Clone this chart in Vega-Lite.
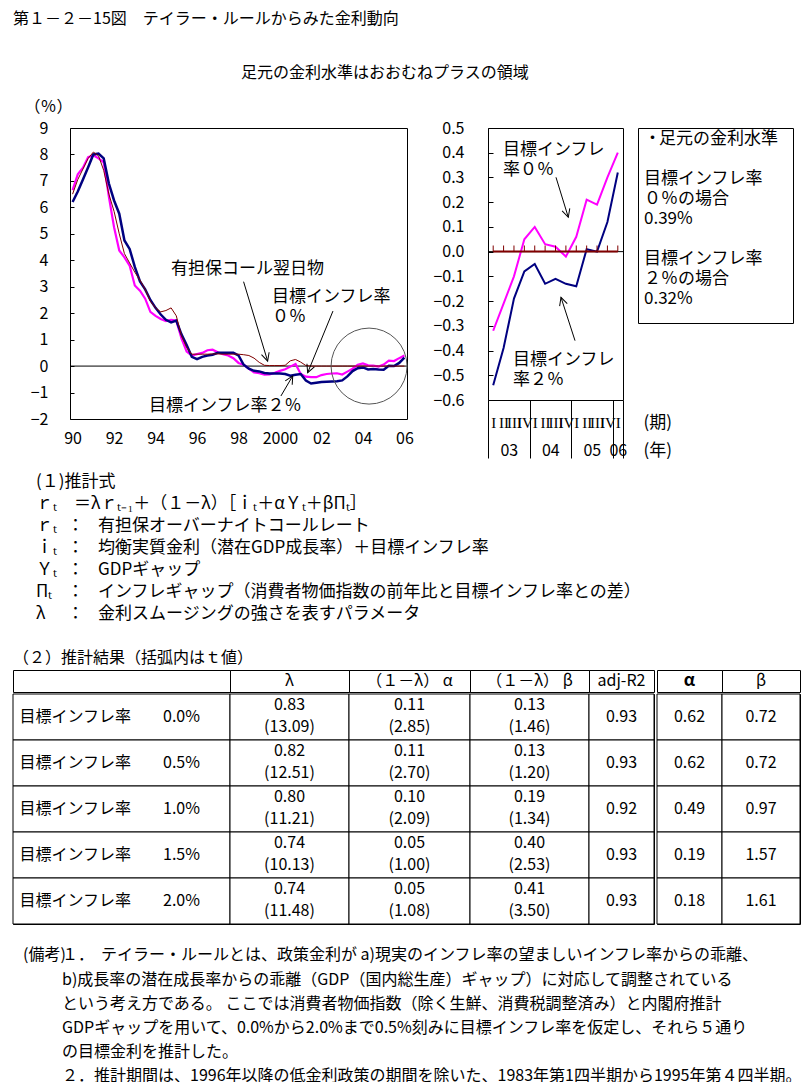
{
"$schema": "https://vega.github.io/schema/vega-lite/v6.json",
"padding": {"left": 12, "top": 10, "right": 0, "bottom": 0},
"background": "white",
"title": {"text": "第１－２－15図　テイラー・ルールからみた金利動向", "anchor": "start", "frame": "group", "fontSize": 16, "fontWeight": "normal", "offset": 38},
"config": {
  "font": "Noto Sans CJK JP",
  "view": {"stroke": null},
  "axis": {"labelFont": "Noto Sans CJK JP", "labelFontSize": 16, "labelColor": "black", "titleColor": "black", "titleFont": "Noto Sans CJK JP", "titleFontWeight": "normal", "grid": false, "domain": false, "tickColor": "black", "labelFlush": false},
  "text": {"font": "Noto Sans CJK JP", "color": "black"},
  "title": {"font": "Noto Sans CJK JP", "fontWeight": "normal", "color": "black", "fontSize": 16}
},
"datasets": {
  "rates": [
    {"t":1990.125,"call":6.5,"m0":6.65,"m2":6.2},
    {"t":1990.375,"call":7.05,"m0":7.25,"m2":6.6},
    {"t":1990.625,"call":7.45,"m0":7.5,"m2":7.05},
    {"t":1990.875,"call":7.85,"m0":7.9,"m2":7.52},
    {"t":1991.125,"call":8.09,"m0":7.97,"m2":8.0},
    {"t":1991.375,"call":7.95,"m0":7.85,"m2":8.03},
    {"t":1991.625,"call":7.4,"m0":7.7,"m2":7.85},
    {"t":1991.875,"call":6.5,"m0":6.4,"m2":6.9},
    {"t":1992.125,"call":5.85,"m0":5.25,"m2":6.26},
    {"t":1992.375,"call":5.0,"m0":4.37,"m2":5.76},
    {"t":1992.625,"call":4.25,"m0":4.11,"m2":4.75},
    {"t":1992.875,"call":3.9,"m0":3.8,"m2":4.43},
    {"t":1993.125,"call":3.55,"m0":3.05,"m2":3.75},
    {"t":1993.375,"call":3.25,"m0":2.85,"m2":3.2},
    {"t":1993.625,"call":2.9,"m0":2.55,"m2":2.9},
    {"t":1993.875,"call":2.45,"m0":2.05,"m2":2.5},
    {"t":1994.125,"call":2.2,"m0":1.9,"m2":2.2},
    {"t":1994.375,"call":2.05,"m0":1.78,"m2":1.95},
    {"t":1994.625,"call":2.1,"m0":1.7,"m2":1.75},
    {"t":1994.875,"call":2.2,"m0":1.75,"m2":1.65},
    {"t":1995.125,"call":1.9,"m0":1.72,"m2":1.72},
    {"t":1995.375,"call":1.15,"m0":1.05,"m2":1.2},
    {"t":1995.625,"call":0.7,"m0":0.55,"m2":0.8},
    {"t":1995.875,"call":0.45,"m0":0.4,"m2":0.35},
    {"t":1996.125,"call":0.45,"m0":0.45,"m2":0.26},
    {"t":1996.375,"call":0.45,"m0":0.5,"m2":0.35},
    {"t":1996.625,"call":0.45,"m0":0.6,"m2":0.4},
    {"t":1996.875,"call":0.46,"m0":0.62,"m2":0.43},
    {"t":1997.125,"call":0.46,"m0":0.52,"m2":0.5},
    {"t":1997.375,"call":0.45,"m0":0.45,"m2":0.5},
    {"t":1997.625,"call":0.45,"m0":0.4,"m2":0.5},
    {"t":1997.875,"call":0.45,"m0":0.3,"m2":0.5},
    {"t":1998.125,"call":0.45,"m0":0.12,"m2":0.4},
    {"t":1998.375,"call":0.43,"m0":0.05,"m2":0.05},
    {"t":1998.625,"call":0.4,"m0":-0.1,"m2":-0.1},
    {"t":1998.875,"call":0.3,"m0":-0.24,"m2":-0.18},
    {"t":1999.125,"call":0.14,"m0":-0.27,"m2":-0.2},
    {"t":1999.375,"call":0.03,"m0":-0.32,"m2":-0.26},
    {"t":1999.625,"call":0.02,"m0":-0.31,"m2":-0.28},
    {"t":1999.875,"call":0.02,"m0":-0.25,"m2":-0.28},
    {"t":2000.125,"call":0.02,"m0":-0.18,"m2":-0.28},
    {"t":2000.375,"call":0.03,"m0":-0.12,"m2":-0.3},
    {"t":2000.625,"call":0.2,"m0":-0.02,"m2":-0.36},
    {"t":2000.875,"call":0.25,"m0":0.08,"m2":-0.33},
    {"t":2001.125,"call":0.15,"m0":-0.3,"m2":-0.3},
    {"t":2001.375,"call":0.02,"m0":-0.4,"m2":-0.55},
    {"t":2001.625,"call":0.001,"m0":-0.42,"m2":-0.66},
    {"t":2001.875,"call":0.001,"m0":-0.42,"m2":-0.63},
    {"t":2002.125,"call":0.001,"m0":-0.34,"m2":-0.6},
    {"t":2002.375,"call":0.001,"m0":-0.3,"m2":-0.59},
    {"t":2002.625,"call":0.001,"m0":-0.28,"m2":-0.58},
    {"t":2002.875,"call":0.001,"m0":-0.27,"m2":-0.57},
    {"t":2003.125,"call":0.001,"m0":-0.32,"m2":-0.54},
    {"t":2003.375,"call":0.001,"m0":-0.21,"m2":-0.39},
    {"t":2003.625,"call":0.001,"m0":-0.1,"m2":-0.19},
    {"t":2003.875,"call":0.001,"m0":0.05,"m2":-0.08},
    {"t":2004.125,"call":0.001,"m0":0.1,"m2":-0.05},
    {"t":2004.375,"call":0.001,"m0":0.03,"m2":-0.13},
    {"t":2004.625,"call":0.001,"m0":0.02,"m2":-0.11},
    {"t":2004.875,"call":0.001,"m0":-0.02,"m2":-0.13},
    {"t":2005.125,"call":0.001,"m0":0.06,"m2":-0.14},
    {"t":2005.375,"call":0.001,"m0":0.21,"m2":0.01},
    {"t":2005.625,"call":0.001,"m0":0.19,"m2":0.0},
    {"t":2005.875,"call":0.001,"m0":0.3,"m2":0.12},
    {"t":2006.125,"call":0.001,"m0":0.4,"m2":0.32}
  ],
  "txtL": [
    {"t":1994.87,"v":3.67,"label":"有担保コール翌日物"},
    {"t":1999.74,"v":2.61,"label":"目標インフレ率\n０％"},
    {"t":1993.81,"v":-1.51,"label":"目標インフレ率２％"}
  ],
  "arrL": [
    {"id":"a","t":1998.37,"v":3.19,"t2":1999.53,"v2":0.19},
    {"id":"b","t":2002.68,"v":2.08,"t2":2001.46,"v2":-0.25},
    {"id":"c","t":2000.17,"v":-1.13,"t2":2000.74,"v2":-0.37}
  ],
  "circ": [{"t":2004.42,"v":0}],
  "txtR": [
    {"t":2003.361,"v":0.41,"label":"目標インフレ\n率０％"},
    {"t":2003.602,"v":-0.44,"label":"目標インフレ\n率２％"}
  ],
  "arrR": [
    {"id":"d","t":2004.637,"v":0.3006,"t2":2004.933,"v2":0.139},
    {"id":"e","t":2005.095,"v":-0.36,"t2":2004.757,"v2":-0.1846}
  ],
  "box": [
    {"line":1,"col":"a","text":"・"},
    {"line":1,"col":"b","text":"足元の金利水準"},
    {"line":3,"col":"a","text":"目標インフレ率"},
    {"line":4,"col":"a","text":"０％の場合"},
    {"line":5,"col":"a","text":"0.39%"},
    {"line":7,"col":"a","text":"目標インフレ率"},
    {"line":8,"col":"a","text":"２％の場合"},
    {"line":9,"col":"a","text":"0.32%"}
  ],
  "eq": [
    {"line":1,"col":"sym","text":"(１)推計式"},
    {"line":2,"col":"sym","text":"ｒₜ　＝λｒₜ₋₁＋（１－λ）［ｉₜ＋αＹₜ＋βΠₜ］"},
    {"line":3,"col":"sym","text":"ｒₜ"},
    {"line":3,"col":"colon","text":"："},
    {"line":3,"col":"desc","text":"有担保オーバーナイトコールレート"},
    {"line":4,"col":"sym","text":"ｉₜ"},
    {"line":4,"col":"colon","text":"："},
    {"line":4,"col":"desc","text":"均衡実質金利（潜在GDP成長率）＋目標インフレ率"},
    {"line":5,"col":"sym","text":"Ｙₜ"},
    {"line":5,"col":"colon","text":"："},
    {"line":5,"col":"desc","text":"GDPギャップ"},
    {"line":6,"col":"sym","text":"Πₜ"},
    {"line":6,"col":"colon","text":"："},
    {"line":6,"col":"desc","text":"インフレギャップ（消費者物価指数の前年比と目標インフレ率との差）"},
    {"line":7,"col":"sym","text":"λ"},
    {"line":7,"col":"colon","text":"："},
    {"line":7,"col":"desc","text":"金利スムージングの強さを表すパラメータ"}
  ],
  "notes": [
    {"line":1,"col":"head","text":"(備考)"},
    {"line":1,"col":"num","text":"１．"},
    {"line":1,"col":"body","text":"テイラー・ルールとは、政策金利が a)現実のインフレ率の望ましいインフレ率からの乖離、"},
    {"line":2,"col":"num","text":"\u3000\u2002b)成長率の潜在成長率からの乖離（GDP（国内総生産）ギャップ）に対応して調整されている"},
    {"line":3,"col":"num","text":"\u3000\u2002という考え方である。 ここでは消費者物価指数（除く生鮮、消費税調整済み）と内閣府推計"},
    {"line":4,"col":"num","text":"\u3000\u2002GDPギャップを用いて、0.0%から2.0%まで0.5%刻みに目標インフレ率を仮定し、それら５通り"},
    {"line":5,"col":"num","text":"\u3000\u2002の目標金利を推計した。"},
    {"line":6,"col":"num","text":"\u3000２．推計期間は、1996年以降の低金利政策の期間を除いた、1983年第1四半期から1995年第４四半期。"}
  ],
  "est": [
    {"target":"目標インフレ率　　0.0%","lam":"0.83","lam_t":"(13.09)","a":"0.11","a_t":"(2.85)","b":"0.13","b_t":"(1.46)","r2":"0.93","alpha":"0.62","beta":"0.72"},
    {"target":"目標インフレ率　　0.5%","lam":"0.82","lam_t":"(12.51)","a":"0.11","a_t":"(2.70)","b":"0.13","b_t":"(1.20)","r2":"0.93","alpha":"0.62","beta":"0.72"},
    {"target":"目標インフレ率　　1.0%","lam":"0.80","lam_t":"(11.21)","a":"0.10","a_t":"(2.09)","b":"0.19","b_t":"(1.34)","r2":"0.92","alpha":"0.49","beta":"0.97"},
    {"target":"目標インフレ率　　1.5%","lam":"0.74","lam_t":"(10.13)","a":"0.05","a_t":"(1.00)","b":"0.40","b_t":"(2.53)","r2":"0.93","alpha":"0.19","beta":"1.57"},
    {"target":"目標インフレ率　　2.0%","lam":"0.74","lam_t":"(11.48)","a":"0.05","a_t":"(1.08)","b":"0.41","b_t":"(3.50)","r2":"0.93","alpha":"0.18","beta":"1.61"}
  ]
},
"spacing": 0,
"bounds": "full",
"vconcat": [
  {
    "spacing": 0,
    "bounds": "flush",
    "hconcat": [
      {"width": 57, "height": 1, "view": {"stroke": "transparent"},
       "title": {"text": "足元の金利水準はおおむねプラスの領域", "anchor": "start", "frame": "group", "dx": 228, "offset": 47, "fontSize": 16, "fontWeight": "normal", "limit": 0},
       "data": {"values": []}, "mark": "point"},
      {
        "width": 337, "height": 291,
        "view": {"stroke": "black", "strokeWidth": 1},
        "resolve": {"axis": {"x": "independent", "y": "independent"}},
        "layer": [
          {"data": {"values": [{}]}, "mark": {"type": "rule", "color": "black", "strokeWidth": 1},
           "encoding": {"y": {"datum": 0, "type": "quantitative", "scale": {"domain": [-2, 9], "nice": false, "zero": false}, "axis": null}}},
          {"data": {"name": "rates"}, "mark": {"type": "line", "color": "#FF00FF", "strokeWidth": 2.2},
           "encoding": {
             "x": {"field": "t", "type": "quantitative", "scale": {"domain": [1990, 2006.25], "nice": false, "zero": false},
                   "axis": {"orient": "bottom", "values": [1990.125, 1992.125, 1994.125, 1996.125, 1998.125, 2000.125, 2002.125, 2004.125, 2006.125],
                            "labelExpr": "floor(datum.value) == 2000 ? '2000' : substring(toString(floor(datum.value)), 2, 4)",
                            "ticks": false, "tickSize": 0, "labelPadding": 19, "labelBaseline": "middle", "labelOverlap": false, "labelBound": false, "title": null}},
             "y": {"field": "m0", "type": "quantitative", "scale": {"domain": [-2, 9], "nice": false, "zero": false},
                   "axis": {"orient": "left", "values": [-2, -1, 0, 1, 2, 3, 4, 5, 6, 7, 8, 9], "tickSize": -4, "labelPadding": 26, "labelOverlap": false, "labelBound": false,
                            "title": "（％）", "titleAngle": 0, "titleX": -46, "titleY": -22, "titleAlign": "left", "titleBaseline": "middle", "titleFontSize": 16}}
           }},
          {"data": {"name": "rates"}, "mark": {"type": "line", "color": "#000080", "strokeWidth": 2.5},
           "encoding": {
             "x": {"field": "t", "type": "quantitative", "scale": {"domain": [1990, 2006.25], "nice": false, "zero": false}, "axis": null},
             "y": {"field": "m2", "type": "quantitative", "scale": {"domain": [-2, 9], "nice": false, "zero": false}, "axis": null}
           }},
          {"data": {"name": "rates"}, "mark": {"type": "line", "color": "#800000", "strokeWidth": 1},
           "encoding": {
             "x": {"field": "t", "type": "quantitative", "scale": {"domain": [1990, 2006.25], "nice": false, "zero": false}, "axis": null},
             "y": {"field": "call", "type": "quantitative", "scale": {"domain": [-2, 9], "nice": false, "zero": false}, "axis": null}
           }},
          {"data": {"name": "circ"}, "mark": {"type": "point", "shape": "circle", "filled": false, "size": 5776, "color": "#555555", "strokeWidth": 1, "opacity": 1},
           "encoding": {
             "x": {"field": "t", "type": "quantitative", "scale": {"domain": [1990, 2006.25], "nice": false, "zero": false}, "axis": null},
             "y": {"field": "v", "type": "quantitative", "scale": {"domain": [-2, 9], "nice": false, "zero": false}, "axis": null}
           }},
          {"data": {"name": "arrL"}, "mark": {"type": "rule", "color": "black", "strokeWidth": 1},
           "encoding": {
             "x": {"field": "t", "type": "quantitative", "scale": {"domain": [1990, 2006.25], "nice": false, "zero": false}, "axis": null},
             "y": {"field": "v", "type": "quantitative", "scale": {"domain": [-2, 9], "nice": false, "zero": false}, "axis": null},
             "x2": {"field": "t2"}, "y2": {"field": "v2"}
           }},
          {"data": {"name": "arrL"}, "transform": [{"filter": "datum.id == 'a'"}],
           "mark": {"type": "point", "shape": "M-1,-0.5L0,0L-1,0.5", "filled": false, "size": 256, "angle": 73, "color": "black", "strokeWidth": 1, "opacity": 1},
           "encoding": {
             "x": {"field": "t2", "type": "quantitative", "scale": {"domain": [1990, 2006.25], "nice": false, "zero": false}, "axis": null},
             "y": {"field": "v2", "type": "quantitative", "scale": {"domain": [-2, 9], "nice": false, "zero": false}, "axis": null}
           }},
          {"data": {"name": "arrL"}, "transform": [{"filter": "datum.id == 'b'"}],
           "mark": {"type": "point", "shape": "M-1,-0.5L0,0L-1,0.5", "filled": false, "size": 256, "angle": 112, "color": "black", "strokeWidth": 1, "opacity": 1},
           "encoding": {
             "x": {"field": "t2", "type": "quantitative", "scale": {"domain": [1990, 2006.25], "nice": false, "zero": false}, "axis": null},
             "y": {"field": "v2", "type": "quantitative", "scale": {"domain": [-2, 9], "nice": false, "zero": false}, "axis": null}
           }},
          {"data": {"name": "arrL"}, "transform": [{"filter": "datum.id == 'c'"}],
           "mark": {"type": "point", "shape": "M-1,-0.5L0,0L-1,0.5", "filled": false, "size": 256, "angle": 300, "color": "black", "strokeWidth": 1, "opacity": 1},
           "encoding": {
             "x": {"field": "t2", "type": "quantitative", "scale": {"domain": [1990, 2006.25], "nice": false, "zero": false}, "axis": null},
             "y": {"field": "v2", "type": "quantitative", "scale": {"domain": [-2, 9], "nice": false, "zero": false}, "axis": null}
           }},
          {"data": {"name": "txtL"}, "mark": {"type": "text", "align": "left", "baseline": "middle", "fontSize": 17, "lineBreak": "\n", "lineHeight": 20},
           "encoding": {
             "x": {"field": "t", "type": "quantitative", "scale": {"domain": [1990, 2006.25], "nice": false, "zero": false}, "axis": null},
             "y": {"field": "v", "type": "quantitative", "scale": {"domain": [-2, 9], "nice": false, "zero": false}, "axis": null},
             "text": {"field": "label"}
           }}
        ]
      },
      {"width": 81, "height": 1, "view": {"stroke": "transparent"}, "data": {"values": []}, "mark": "point"},
      {
        "width": 135, "height": 272,
        "view": {"stroke": "black", "strokeWidth": 1},
        "resolve": {"axis": {"x": "independent", "y": "independent"}},
        "layer": [
          {"data": {"values": [{}]}, "mark": {"type": "rule", "color": "black", "strokeWidth": 1},
           "encoding": {"y": {"datum": 0, "type": "quantitative", "scale": {"domain": [-0.6, 0.5], "nice": false, "zero": false}, "axis": null}}},
          {"data": {"name": "rates"}, "transform": [{"filter": "datum.t > 2003"}], "mark": {"type": "line", "color": "#FF00FF", "strokeWidth": 2},
           "encoding": {
             "x": {"field": "t", "type": "quantitative", "scale": {"domain": [2003, 2006.25], "nice": false, "zero": false},
                   "axis": {"orient": "bottom", "values": [2003.125, 2003.375, 2003.625, 2003.875, 2004.125, 2004.375, 2004.625, 2004.875, 2005.125, 2005.375, 2005.625, 2005.875, 2006.125],
                            "labelExpr": "['I','II','III','IV'][round((datum.value - floor(datum.value) - 0.125) * 4)]",
                            "labelFont": "Liberation Serif", "labelFontSize": 15, "ticks": false, "tickSize": 0, "labelPadding": 22, "labelBaseline": "middle", "labelOverlap": false, "labelBound": false,
                            "title": "(期)", "titleX": 155, "titleY": 22, "titleAlign": "left", "titleBaseline": "middle", "titleFontSize": 17}},
             "y": {"field": "m0", "type": "quantitative", "scale": {"domain": [-0.6, 0.5], "nice": false, "zero": false},
                   "axis": {"orient": "left", "values": [-0.6, -0.5, -0.4, -0.3, -0.2, -0.1, 0, 0.1, 0.2, 0.3, 0.4, 0.5], "format": ".1f", "tickSize": -5, "labelPadding": 29, "title": null}}
           }},
          {"data": {"name": "rates"}, "transform": [{"filter": "datum.t > 2003"}], "mark": {"type": "line", "color": "#000080", "strokeWidth": 2},
           "encoding": {
             "x": {"field": "t", "type": "quantitative", "scale": {"domain": [2003, 2006.25], "nice": false, "zero": false},
                   "axis": {"orient": "bottom", "values": [2003, 2004, 2005, 2006, 2006.25], "labels": false, "ticks": true, "tickSize": 58, "tickColor": "black", "title": null}},
             "y": {"field": "m2", "type": "quantitative", "scale": {"domain": [-0.6, 0.5], "nice": false, "zero": false}, "axis": null}
           }},
          {"data": {"name": "rates"}, "transform": [{"filter": "datum.t > 2003"}], "mark": {"type": "line", "color": "#800000", "strokeWidth": 2},
           "encoding": {
             "x": {"field": "t", "type": "quantitative", "scale": {"domain": [2003, 2006.25], "nice": false, "zero": false},
                   "axis": {"orient": "bottom", "values": [2003.5, 2004.5, 2005.5, 2006.125],
                            "labelExpr": "substring(toString(floor(datum.value)), 2, 4)",
                            "ticks": false, "tickSize": 0, "labelPadding": 50, "labelBaseline": "middle", "labelOverlap": false, "labelBound": false,
                            "title": "(年)", "titleX": 155, "titleY": 50, "titleAlign": "left", "titleBaseline": "middle", "titleFontSize": 17}},
             "y": {"field": "call", "type": "quantitative", "scale": {"domain": [-0.6, 0.5], "nice": false, "zero": false}, "axis": null}
           }},
          {"data": {"name": "rates"}, "transform": [{"filter": "datum.t > 2003"}], "mark": {"type": "tick", "orient": "vertical", "size": 6, "thickness": 1, "color": "#800000", "yOffset": -3, "opacity": 1},
           "encoding": {
             "x": {"field": "t", "type": "quantitative", "scale": {"domain": [2003, 2006.25], "nice": false, "zero": false}, "axis": null},
             "y": {"field": "call", "type": "quantitative", "scale": {"domain": [-0.6, 0.5], "nice": false, "zero": false}, "axis": null}
           }},
          {"data": {"name": "arrR"}, "mark": {"type": "rule", "color": "black", "strokeWidth": 1},
           "encoding": {
             "x": {"field": "t", "type": "quantitative", "scale": {"domain": [2003, 2006.25], "nice": false, "zero": false}, "axis": null},
             "y": {"field": "v", "type": "quantitative", "scale": {"domain": [-0.6, 0.5], "nice": false, "zero": false}, "axis": null},
             "x2": {"field": "t2"}, "y2": {"field": "v2"}
           }},
          {"data": {"name": "arrR"}, "transform": [{"filter": "datum.id == 'd'"}],
           "mark": {"type": "point", "shape": "M-1,-0.5L0,0L-1,0.5", "filled": false, "size": 256, "angle": 73, "color": "black", "strokeWidth": 1, "opacity": 1},
           "encoding": {
             "x": {"field": "t2", "type": "quantitative", "scale": {"domain": [2003, 2006.25], "nice": false, "zero": false}, "axis": null},
             "y": {"field": "v2", "type": "quantitative", "scale": {"domain": [-0.6, 0.5], "nice": false, "zero": false}, "axis": null}
           }},
          {"data": {"name": "arrR"}, "transform": [{"filter": "datum.id == 'e'"}],
           "mark": {"type": "point", "shape": "M-1,-0.5L0,0L-1,0.5", "filled": false, "size": 256, "angle": 252, "color": "black", "strokeWidth": 1, "opacity": 1},
           "encoding": {
             "x": {"field": "t2", "type": "quantitative", "scale": {"domain": [2003, 2006.25], "nice": false, "zero": false}, "axis": null},
             "y": {"field": "v2", "type": "quantitative", "scale": {"domain": [-0.6, 0.5], "nice": false, "zero": false}, "axis": null}
           }},
          {"data": {"name": "txtR"}, "mark": {"type": "text", "align": "left", "baseline": "middle", "fontSize": 17, "lineBreak": "\n", "lineHeight": 20},
           "encoding": {
             "x": {"field": "t", "type": "quantitative", "scale": {"domain": [2003, 2006.25], "nice": false, "zero": false}, "axis": null},
             "y": {"field": "v", "type": "quantitative", "scale": {"domain": [-0.6, 0.5], "nice": false, "zero": false}, "axis": null},
             "text": {"field": "label"}
           }}
        ]
      },
      {"width": 15, "height": 1, "view": {"stroke": "transparent"}, "data": {"values": []}, "mark": "point"},
      {
        "width": 155, "height": 195,
        "view": {"stroke": "black", "strokeWidth": 1},
        "data": {"name": "box"},
        "mark": {"type": "text", "align": "left", "baseline": "middle", "fontSize": 17},
        "encoding": {
          "x": {"field": "col", "type": "nominal", "scale": {"type": "point", "domain": ["a", "b"], "range": [6, 21], "padding": 0}, "axis": null},
          "y": {"field": "line", "type": "quantitative", "scale": {"domain": [0.45, 10.2], "reverse": true, "nice": false, "zero": false}, "axis": null},
          "text": {"field": "text"}
        }
      }
    ]
  },
  {
    "width": 794, "height": 190,
    "view": {"fill": "white"},
    "data": {"name": "eq"},
    "mark": {"type": "text", "align": "left", "baseline": "middle", "fontSize": 17},
    "encoding": {
      "x": {"field": "col", "type": "nominal", "scale": {"type": "point", "domain": ["sym", "colon", "desc"], "range": [23, 85], "padding": 0}, "axis": null},
      "y": {"field": "line", "type": "quantitative", "scale": {"domain": [-0.04545, 8.591], "reverse": true, "nice": false, "zero": false}, "axis": null},
      "text": {"field": "text"}
    }
  },
  {
    "spacing": 0,
    "bounds": "flush",
    "hconcat": [
      {"width": 217, "height": 22, "view": {"stroke": "black"},
       "title": {"text": "（２）推計結果（括弧内はｔ値）", "anchor": "start", "frame": "group", "offset": 4, "fontSize": 16, "fontWeight": "normal"},
       "data": {"values": [{"h": " "}]}, "mark": {"type": "text", "fontSize": 16}, "encoding": {"text": {"field": "h"}}},
      {"width": 119, "height": 22, "view": {"stroke": "black"}, "data": {"values": [{"h": "λ"}]}, "mark": {"type": "text", "fontSize": 16}, "encoding": {"text": {"field": "h"}}},
      {"width": 121, "height": 22, "view": {"stroke": "black"}, "data": {"values": [{"h": "（１－λ） α"}]}, "mark": {"type": "text", "fontSize": 16}, "encoding": {"text": {"field": "h"}}},
      {"width": 119, "height": 22, "view": {"stroke": "black"}, "data": {"values": [{"h": "（１－λ） β"}]}, "mark": {"type": "text", "fontSize": 16}, "encoding": {"text": {"field": "h"}}},
      {"width": 65, "height": 22, "view": {"stroke": "black"}, "data": {"values": [{"h": "adj-R2"}]}, "mark": {"type": "text", "fontSize": 16}, "encoding": {"text": {"field": "h"}}},
      {"width": 3, "height": 22, "data": {"values": []}, "mark": "point"},
      {"width": 65, "height": 22, "view": {"stroke": "black"}, "data": {"values": [{"h": "α"}]}, "mark": {"type": "text", "fontSize": 17, "fontWeight": "bold"}, "encoding": {"text": {"field": "h"}}},
      {"width": 78, "height": 22, "view": {"stroke": "black"}, "data": {"values": [{"h": "β"}]}, "mark": {"type": "text", "fontSize": 16}, "encoding": {"text": {"field": "h"}}}
    ]
  },
  {
    "spacing": 0,
    "bounds": "flush",
    "hconcat": [
      {"width": 217, "height": 230, "view": {"stroke": "black"}, "data": {"name": "est"},
       "layer": [
         {"mark": {"type": "rect", "fill": "white", "stroke": "black", "strokeWidth": 1}, "encoding": {"y": {"field": "target", "type": "nominal", "sort": null, "scale": {"paddingInner": 0, "paddingOuter": 0}, "axis": null}}},
         {"mark": {"type": "text", "fontSize": 16, "align": "left", "dx": -102}, "encoding": {"y": {"field": "target", "type": "nominal", "sort": null, "scale": {"paddingInner": 0, "paddingOuter": 0}, "axis": null}, "text": {"field": "target"}}}
       ]},
      {"width": 119, "height": 230, "view": {"stroke": "black"}, "data": {"name": "est"},
       "layer": [
         {"mark": {"type": "rect", "fill": "white", "stroke": "black", "strokeWidth": 1}, "encoding": {"y": {"field": "target", "type": "nominal", "sort": null, "scale": {"paddingInner": 0, "paddingOuter": 0}, "axis": null}}},
         {"mark": {"type": "text", "fontSize": 16, "dy": -12}, "encoding": {"y": {"field": "target", "type": "nominal", "sort": null, "scale": {"paddingInner": 0, "paddingOuter": 0}, "axis": null}, "text": {"field": "lam"}}},
         {"mark": {"type": "text", "fontSize": 16, "dy": 10}, "encoding": {"y": {"field": "target", "type": "nominal", "sort": null, "scale": {"paddingInner": 0, "paddingOuter": 0}, "axis": null}, "text": {"field": "lam_t"}}}
       ]},
      {"width": 121, "height": 230, "view": {"stroke": "black"}, "data": {"name": "est"},
       "layer": [
         {"mark": {"type": "rect", "fill": "white", "stroke": "black", "strokeWidth": 1}, "encoding": {"y": {"field": "target", "type": "nominal", "sort": null, "scale": {"paddingInner": 0, "paddingOuter": 0}, "axis": null}}},
         {"mark": {"type": "text", "fontSize": 16, "dy": -12}, "encoding": {"y": {"field": "target", "type": "nominal", "sort": null, "scale": {"paddingInner": 0, "paddingOuter": 0}, "axis": null}, "text": {"field": "a"}}},
         {"mark": {"type": "text", "fontSize": 16, "dy": 10}, "encoding": {"y": {"field": "target", "type": "nominal", "sort": null, "scale": {"paddingInner": 0, "paddingOuter": 0}, "axis": null}, "text": {"field": "a_t"}}}
       ]},
      {"width": 119, "height": 230, "view": {"stroke": "black"}, "data": {"name": "est"},
       "layer": [
         {"mark": {"type": "rect", "fill": "white", "stroke": "black", "strokeWidth": 1}, "encoding": {"y": {"field": "target", "type": "nominal", "sort": null, "scale": {"paddingInner": 0, "paddingOuter": 0}, "axis": null}}},
         {"mark": {"type": "text", "fontSize": 16, "dy": -12}, "encoding": {"y": {"field": "target", "type": "nominal", "sort": null, "scale": {"paddingInner": 0, "paddingOuter": 0}, "axis": null}, "text": {"field": "b"}}},
         {"mark": {"type": "text", "fontSize": 16, "dy": 10}, "encoding": {"y": {"field": "target", "type": "nominal", "sort": null, "scale": {"paddingInner": 0, "paddingOuter": 0}, "axis": null}, "text": {"field": "b_t"}}}
       ]},
      {"width": 65, "height": 230, "view": {"stroke": "black"}, "data": {"name": "est"},
       "layer": [
         {"mark": {"type": "rect", "fill": "white", "stroke": "black", "strokeWidth": 1}, "encoding": {"y": {"field": "target", "type": "nominal", "sort": null, "scale": {"paddingInner": 0, "paddingOuter": 0}, "axis": null}}},
         {"mark": {"type": "text", "fontSize": 16}, "encoding": {"y": {"field": "target", "type": "nominal", "sort": null, "scale": {"paddingInner": 0, "paddingOuter": 0}, "axis": null}, "text": {"field": "r2"}}}
       ]},
      {"width": 3, "height": 230, "data": {"values": []}, "mark": "point"},
      {"width": 65, "height": 230, "view": {"stroke": "black"}, "data": {"name": "est"},
       "layer": [
         {"mark": {"type": "rect", "fill": "white", "stroke": "black", "strokeWidth": 1}, "encoding": {"y": {"field": "target", "type": "nominal", "sort": null, "scale": {"paddingInner": 0, "paddingOuter": 0}, "axis": null}}},
         {"mark": {"type": "text", "fontSize": 16}, "encoding": {"y": {"field": "target", "type": "nominal", "sort": null, "scale": {"paddingInner": 0, "paddingOuter": 0}, "axis": null}, "text": {"field": "alpha"}}}
       ]},
      {"width": 78, "height": 230, "view": {"stroke": "black"}, "data": {"name": "est"},
       "layer": [
         {"mark": {"type": "rect", "fill": "white", "stroke": "black", "strokeWidth": 1}, "encoding": {"y": {"field": "target", "type": "nominal", "sort": null, "scale": {"paddingInner": 0, "paddingOuter": 0}, "axis": null}}},
         {"mark": {"type": "text", "fontSize": 16}, "encoding": {"y": {"field": "target", "type": "nominal", "sort": null, "scale": {"paddingInner": 0, "paddingOuter": 0}, "axis": null}, "text": {"field": "beta"}}}
       ]}
    ]
  },
  {
    "width": 794, "height": 162,
    "view": {"fill": "white"},
    "data": {"name": "notes"},
    "mark": {"type": "text", "align": "left", "baseline": "middle", "fontSize": 16},
    "encoding": {
      "x": {"field": "col", "type": "nominal", "scale": {"type": "point", "domain": ["head", "num", "body"], "range": [10, 88], "padding": 0}, "axis": null},
      "y": {"field": "line", "type": "quantitative", "scale": {"domain": [-0.26, 6.434], "reverse": true, "nice": false, "zero": false}, "axis": null},
      "text": {"field": "text"}
    }
  }
]
}
